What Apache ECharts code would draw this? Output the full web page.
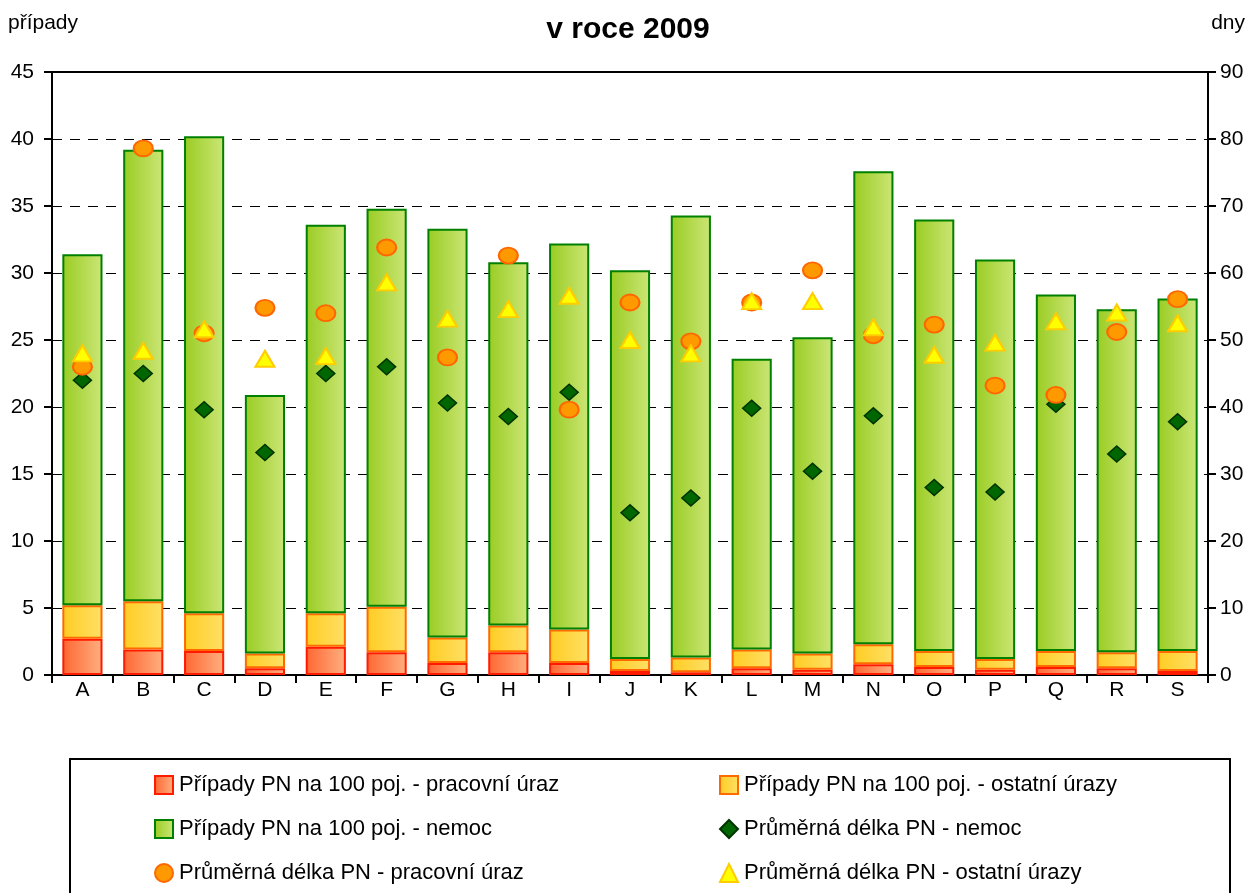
<!DOCTYPE html>
<html>
<head>
	<title>PN v roce 2009</title>
	<meta charset="utf-8">
	<script src="https://cdn.jsdelivr.net/npm/echarts@6/dist/echarts.min.js"></script>
	<style type="text/css">
		html, body { margin: 0; padding: 0; background: #fff; }
		#main { width: 1256px; height: 893px; }
	</style>
</head>
<body>
	<div id="main"></div>
	<script type="text/javascript">
		// data
		var categories = ['A','B','C','D','E','F','G','H','I','J','K','L','M','N','O','P','Q','R','S'];
		// cases per 100 insured (left axis) - cumulative tops
		var uraz = [2.7, 1.9, 1.8, 0.5, 2.1, 1.7, 0.9, 1.7, 0.9, 0.3, 0.2, 0.5, 0.4, 0.8, 0.6, 0.4, 0.6, 0.5, 0.3];
		var urazyTop = [5.2, 5.5, 4.6, 1.6, 4.6, 5.1, 2.8, 3.7, 3.4, 1.2, 1.3, 1.9, 1.6, 2.3, 1.8, 1.2, 1.8, 1.7, 1.8];
		var nemocTop = [31.4, 39.2, 40.2, 20.9, 33.6, 34.8, 33.3, 30.8, 32.2, 30.2, 34.3, 23.6, 25.2, 37.6, 34.0, 31.0, 28.4, 27.3, 28.1];
		// average length in days (right axis)
		var delkaNemoc = [44, 45, 39.6, 33.2, 45, 46, 40.6, 38.6, 42.2, 24.2, 26.4, 39.8, 30.4, 38.7, 28, 27.3, 40.4, 33, 37.8];
		var delkaUraz = [46, 78.6, 51, 54.8, 54, 63.8, 47.4, 62.6, 39.6, 55.6, 49.8, 55.6, 60.4, 50.7, 52.3, 43.2, 41.8, 51.2, 56.1];
		var delkaOstatni = [48, 48.4, 51.6, 47.2, 47.6, 58.6, 53.2, 54.6, 56.6, 50, 48, 55.8, 55.8, 51.9, 47.8, 49.6, 52.8, 54.1, 52.5];

		var urazyPart = urazyTop.map(function(v, i){ return +(v - uraz[i]).toFixed(2); });
		var nemocPart = nemocTop.map(function(v, i){ return +(v - urazyTop[i]).toFixed(2); });

		var fnt = "'Liberation Sans', Arial, sans-serif";

		function grad(c1, c2){
			return { type: 'linear', x: 0, y: 0, x2: 1, y2: 0,
				colorStops: [{offset: 0, color: c1}, {offset: 1, color: c2}] };
		}

		function legendCol(left, items){
			return {
				left: left, top: 774, height: 150, orient: 'vertical', itemGap: 22,
				itemWidth: 18, itemHeight: 18, padding: 0,
				textStyle: { fontFamily: fnt, fontSize: 22, color: '#000', padding: [0, 0, 0, 1] },
				data: items
			};
		}

		var myChart = echarts.init(document.getElementById('main'));
		var option = {
			animation: false,
			backgroundColor: '#fff',
			title: {
				text: 'v roce 2009',
				left: 'center',
				top: 10,
				textStyle: { fontFamily: fnt, fontSize: 30, fontWeight: 'bold', color: '#000' }
			},
			grid: {
				left: 52, right: 48, top: 72, bottom: 218,
				show: true, borderColor: '#000', borderWidth: 2
			},
			legend: [
				legendCol(154, [
					{ name: 'Případy PN na 100 poj. - pracovní úraz', icon: 'rect' },
					{ name: 'Případy PN na 100 poj. - nemoc', icon: 'rect' },
					{ name: 'Průměrná délka PN - pracovní úraz' }
				]),
				legendCol(719, [
					{ name: 'Případy PN na 100 poj. - ostatní úrazy', icon: 'rect' },
					{ name: 'Průměrná délka PN - nemoc' },
					{ name: 'Průměrná délka PN - ostatní úrazy' }
				])
			],
			graphic: [
				{ type: 'rect', shape: { x: 70, y: 759, width: 1160, height: 150 },
					style: { fill: 'none', stroke: '#000', lineWidth: 2 } },
				{ type: 'text', left: 8, top: 13,
					style: { text: 'případy', font: "21px " + fnt, fill: '#000' } },
				{ type: 'text', right: 11, top: 13,
					style: { text: 'dny', font: "21px " + fnt, fill: '#000' } }
			],
			xAxis: {
				type: 'category',
				data: categories,
				axisLine: { lineStyle: { color: '#000', width: 2 } },
				axisTick: { show: true, length: 8, lineStyle: { color: '#000', width: 2 } },
				axisLabel: { fontFamily: fnt, fontSize: 21, color: '#000', margin: 5 }
			},
			yAxis: [{
				type: 'value', min: 0, max: 45, interval: 5, position: 'left',
				axisLine: { show: true, lineStyle: { color: '#000', width: 2 } },
				axisTick: { show: true, length: 8, lineStyle: { color: '#000', width: 2 } },
				axisLabel: { fontFamily: fnt, fontSize: 21, color: '#000', margin: 18 },
				splitLine: { show: true, lineStyle: { color: '#000', width: 1, type: [10, 8] } }
			}, {
				type: 'value', min: 0, max: 90, interval: 10, position: 'right',
				axisLine: { show: true, lineStyle: { color: '#000', width: 2 } },
				axisTick: { show: true, length: 8, lineStyle: { color: '#000', width: 2 } },
				axisLabel: { fontFamily: fnt, fontSize: 21, color: '#000', margin: 12 },
				splitLine: { show: false }
			}],
			series: [{
				name: 'Případy PN na 100 poj. - pracovní úraz',
				type: 'bar', stack: 'pn', barWidth: '66%',
				itemStyle: { color: grad('#ff6633', '#ffb080'), borderColor: '#ff1a00', borderWidth: 2 },
				data: uraz
			}, {
				name: 'Případy PN na 100 poj. - ostatní úrazy',
				type: 'bar', stack: 'pn',
				itemStyle: { color: grad('#ffcc22', '#ffe066'), borderColor: '#ff6a00', borderWidth: 2 },
				data: urazyPart
			}, {
				name: 'Případy PN na 100 poj. - nemoc',
				type: 'bar', stack: 'pn',
				itemStyle: { color: grad('#99cc22', '#cce677'), borderColor: '#008000', borderWidth: 2 },
				data: nemocPart
			}, {
				name: 'Průměrná délka PN - nemoc',
				type: 'scatter', yAxisIndex: 1,
				symbol: 'diamond', symbolSize: [18, 16],
				itemStyle: { color: '#006600', borderColor: '#003300', borderWidth: 1.5, opacity: 1 },
				data: delkaNemoc
			}, {
				name: 'Průměrná délka PN - pracovní úraz',
				type: 'scatter', yAxisIndex: 1,
				symbol: 'circle', symbolSize: [19, 16],
				itemStyle: { color: '#ff9900', borderColor: '#ff6600', borderWidth: 2, opacity: 1 },
				data: delkaUraz
			}, {
				name: 'Průměrná délka PN - ostatní úrazy',
				type: 'scatter', yAxisIndex: 1,
				symbol: 'triangle', symbolSize: [19, 16],
				itemStyle: { color: '#ffff00', borderColor: '#ffcc00', borderWidth: 2, opacity: 1 },
				data: delkaOstatni
			}]
		};
		myChart.setOption(option);
	</script>
</body>
</html>
